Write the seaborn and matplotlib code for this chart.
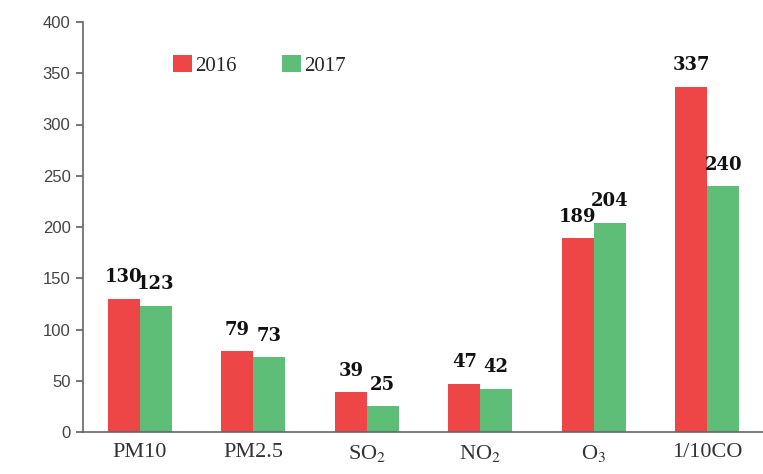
import pandas as pd
import seaborn as sns
import matplotlib.pyplot as plt
import numpy as np

# --- adatok ---
categories = ['PM10', 'PM2.5', 'SO$_2$', 'NO$_2$', 'O$_3$', '1/10CO']
years = ['2016', '2017']
values_2016 = [130, 79, 39, 47, 189, 337]
values_2017 = [123, 73, 25, 42, 204, 240]

df = pd.DataFrame({
    'cat': categories * 2,
    'year': [years[0]] * 6 + [years[1]] * 6,
    'value': values_2016 + values_2017,
})

sns.set_theme(style="white")
plt.rcParams['font.family'] = ['Liberation Serif', 'DejaVu Serif']
plt.rcParams['mathtext.fontset'] = 'stix'

fig = plt.figure(figsize=(7.63, 4.74), dpi=100)
ax = fig.add_axes([83 / 763, 42 / 474, 681 / 763, 410 / 474])

palette = {'2016': '#EE4646', '2017': '#5EBE78'}
sns.barplot(data=df, x='cat', y='value', hue='year', palette=palette,
            width=0.56, gap=0, saturation=1, linewidth=0, ax=ax, legend=True)

for cont in ax.containers:
    ax.bar_label(cont, padding=9, fontsize=13, fontweight='bold',
                 family='DejaVu Serif', color='#111111')

ax.set_ylim(0, 400)
ax.set_xlim(-0.5, 5.5)
ax.set_yticks(np.arange(0, 401, 50))
ax.set_xlabel('')
ax.set_ylabel('')

for lab in ax.get_yticklabels():
    lab.set_family('Liberation Sans')
    lab.set_fontsize(12)
    lab.set_color('#444444')
for lab in ax.get_xticklabels():
    lab.set_fontsize(16)
    lab.set_color('#333333')

ax.tick_params(axis='x', which='major', length=0, pad=8)
ax.set_xticks(np.arange(-0.5, 5.6, 1), minor=True)
ax.tick_params(axis='x', which='minor', length=4, color='#666666', direction='out')
ax.tick_params(axis='y', length=5, color='#666666', direction='out', left=True, pad=4)

for s in ['top', 'right']:
    ax.spines[s].set_visible(False)
for s in ['left', 'bottom']:
    ax.spines[s].set_color('#666666')
    ax.spines[s].set_linewidth(1.2)

ax.legend(loc='upper left', bbox_to_anchor=(0.12, 0.94), ncol=2, frameon=False,
          fontsize=15, handlelength=0.9, handleheight=0.9, handletextpad=0.15,
          columnspacing=2.2, borderaxespad=0)

fig.savefig('out.png', dpi=100)
